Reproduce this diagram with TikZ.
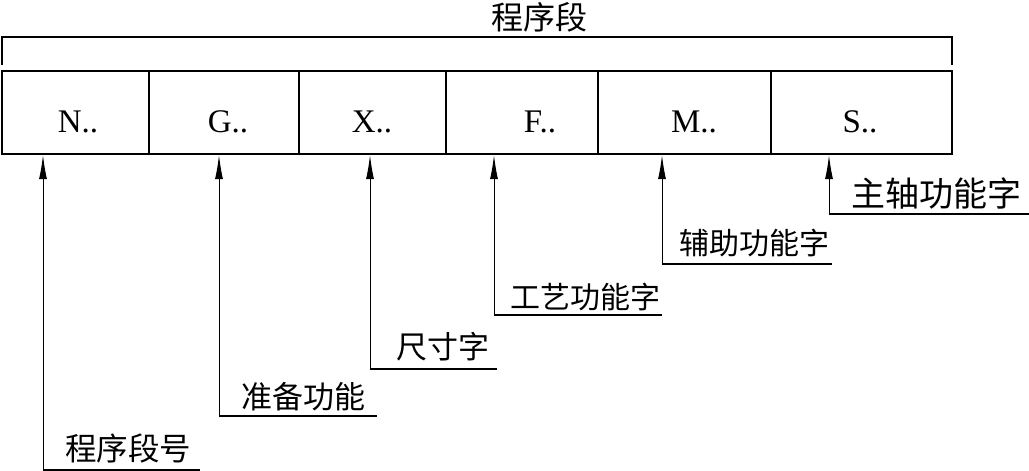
\documentclass[tikz,border=0pt]{standalone}
\usepackage{fontspec}
\setmainfont{Liberation Serif}
\newfontfamily\cjk{Noto Sans CJK SC}
\usetikzlibrary{arrows.meta}
\tikzset{
  cell/.style={draw, line width=2.2pt, rectangle, inner sep=0pt, minimum height=83pt},
  letter/.style={font=\fontsize{33}{33}\selectfont, inner sep=0pt},
  cn/.style={font=\cjk\fontsize{30}{30}\selectfont, inner sep=0pt},
  arr/.style={line width=1pt, -{Latex[length=24pt,width=8pt]}},
  uline/.style={line width=1.3pt},
  brace/.style={line width=2.2pt}
}
\begin{document}
\begin{tikzpicture}[x=1pt,y=-1pt]
\useasboundingbox (0,0) rectangle (1029,471);
% cells
\node[cell, minimum width=147pt] (cN) at (75.5,112.5) {};
\node[cell, minimum width=150pt] (cG) at (224,112.5) {};
\node[cell, minimum width=147pt] (cX) at (372.5,112.5) {};
\node[cell, minimum width=152pt] (cF) at (522,112.5) {};
\node[cell, minimum width=173pt] (cM) at (684.5,112.5) {};
\node[cell, minimum width=181pt] (cS) at (861.5,112.5) {};
% letters
\node[letter] (tN) at (78,122) {N..};
\node[letter] (tG) at (228,122) {G..};
\node[letter] (tX) at (372,122) {X..};
\node[letter] (tF) at (540,122) {F..};
\node[letter] (tM) at (694,122) {M..};
\node[letter] (tS) at (860,122) {S..};
% top bracket
\node[cn, font=\cjk\fontsize{32}{32}\selectfont] (title) at (539,17) {程序段};
\coordinate (bl) at (2,65);
\coordinate (br) at (952,65);
\draw[brace] (bl) -- (2,37) -- (952,37) -- (br);
% callouts
\coordinate (pN) at (43,470);
\coordinate (pG) at (219,416);
\coordinate (pX) at (370,369);
\coordinate (pF) at (494,315);
\coordinate (pM) at (662,264);
\coordinate (pS) at (829,214);
\coordinate (eN) at (200,470);
\coordinate (eG) at (377,416);
\coordinate (eX) at (497,369);
\coordinate (eF) at (662,315);
\coordinate (eM) at (832,264);
\coordinate (eS) at (1029,214);
\draw[arr] (pN) -- (pN |- cN.south);
\draw[arr] (pG) -- (pG |- cG.south);
\draw[arr] (pX) -- (pX |- cX.south);
\draw[arr] (pF) -- (pF |- cF.south);
\draw[arr] (pM) -- (pM |- cM.south);
\draw[arr] (pS) -- (pS |- cS.south);
\draw[uline] (pN) -- (eN);
\draw[uline] (pG) -- (eG);
\draw[uline] (pX) -- (eX);
\draw[uline] (pF) -- (eF);
\draw[uline] (pM) -- (eM);
\draw[uline] (pS) -- (eS);
\node[cn, font=\cjk\fontsize{31.5}{31.5}\selectfont] (lN) at (128,448) {程序段号};
\node[cn, font=\cjk\fontsize{31}{31}\selectfont] (lG) at (303,397) {准备功能};
\node[cn, font=\cjk\fontsize{31}{31}\selectfont] (lX) at (443,347) {尺寸字};
\node[cn] (lF) at (585,297) {工艺功能字};
\node[cn] (lM) at (754,243) {辅助功能字};
\node[cn, font=\cjk\fontsize{34}{34}\selectfont] (lS) at (936,193) {主轴功能字};
\end{tikzpicture}
\end{document}
